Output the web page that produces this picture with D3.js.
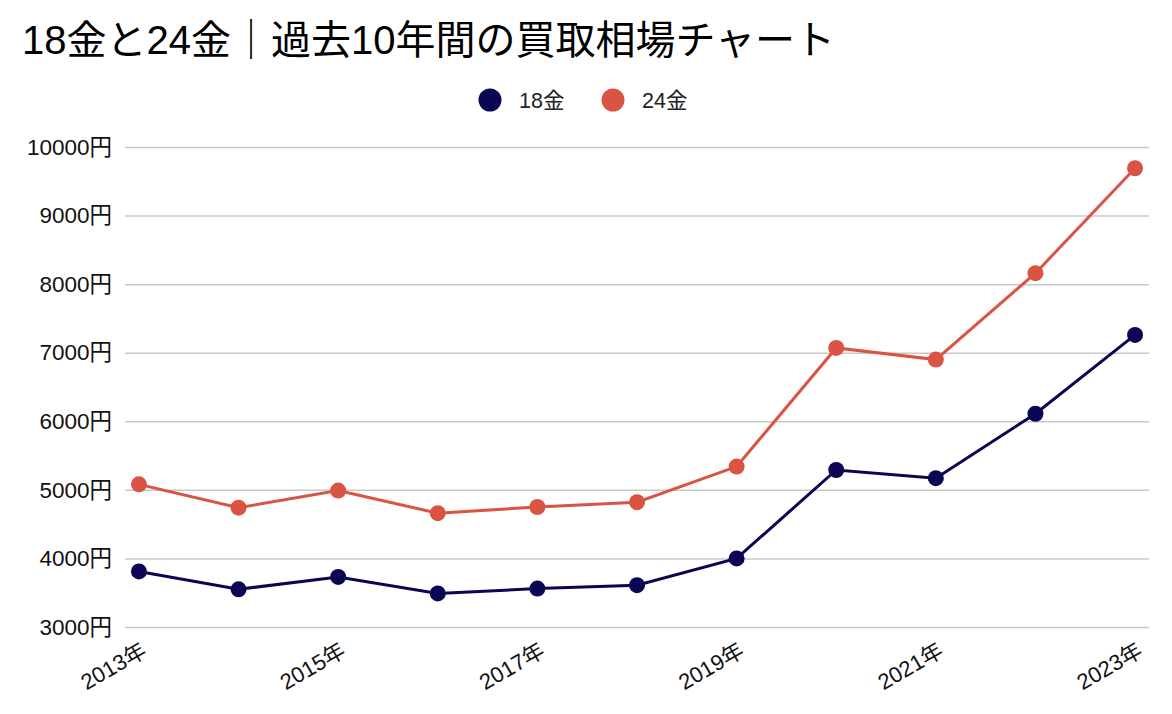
<!DOCTYPE html>
<html>
<head>
<meta charset="utf-8">
<script src="https://cdn.jsdelivr.net/npm/d3@7"></script>
<style>
    body { margin: 0; background: #fff; }
    svg text { font-family: "Liberation Sans", Arial, "Noto Sans CJK JP", sans-serif; }
</style>
</head>
<body>
<svg id="chart"></svg>
<script>
    const years = [2013, 2014, 2015, 2016, 2017, 2018, 2019, 2020, 2021, 2022, 2023];
    const gold18 = [3810, 3550, 3730, 3490, 3560, 3610, 4000, 5290, 5170, 6110, 7260];
    const gold24 = [5080, 4740, 4990, 4660, 4750, 4820, 5340, 7070, 6900, 8160, 9690];
    const yTicks = [3000, 4000, 5000, 6000, 7000, 8000, 9000, 10000];
    const xTickYears = [2013, 2015, 2017, 2019, 2021, 2023];

    const seriesList = [
        {name: '18金', values: gold18, color: '#0b0653'},
        {name: '24金', values: gold24, color: '#da5443'},
    ];

    const WIDTH = 1172;
    const HEIGHT = 714;
    const PLOT_LEFT = 125;
    const PLOT_RIGHT = 1149;
    const PLOT_TOP = 147;
    const PLOT_BOTTOM = 627;
    const DOT_R = 8;

    const svg = d3.select('#chart').attr('width', WIDTH).attr('height', HEIGHT);

    const x = d3.scalePoint()
        .domain(years)
        .range([PLOT_LEFT, PLOT_RIGHT])
        .padding(0.14);

    const y = d3.scaleLinear()
        .domain([3000, 10000])
        .range([PLOT_BOTTOM, PLOT_TOP]);

    // title
    svg.append('text')
        .text('18金と24金｜過去10年間の買取相場チャート')
        .attr('x', 22)
        .attr('y', 54)
        .attr('font-size', 40)
        .attr('fill', '#000');

    // legend
    const legendPos = [490, 613];
    seriesList.forEach((s, i) => {
        svg.append('circle')
            .attr('cx', legendPos[i])
            .attr('cy', 100)
            .attr('r', 11.5)
            .attr('fill', s.color);
        svg.append('text')
            .text(s.name)
            .attr('x', legendPos[i] + 29)
            .attr('y', 100)
            .attr('dy', '0.36em')
            .attr('font-size', 21.5)
            .attr('fill', '#222');
    });

    // y axis with gridlines
    const yAxis = d3.axisLeft(y)
        .tickValues(yTicks)
        .tickSize(-(PLOT_RIGHT - PLOT_LEFT))
        .tickPadding(13)
        .tickFormat(d => d + '円');

    const yG = svg.append('g')
        .attr('transform', `translate(${PLOT_LEFT},0)`)
        .call(yAxis);
    yG.select('.domain').remove();
    yG.selectAll('line').attr('stroke', '#c8c8c8').attr('stroke-width', 1.5);
    yG.selectAll('text')
        .attr('font-size', 22.5)
        .attr('fill', '#111')
        .attr('font-family', '"Liberation Sans", Arial, "Noto Sans CJK JP", sans-serif');

    // x axis labels (rotated)
    svg.append('g')
        .selectAll('text')
        .data(xTickYears)
        .join('text')
        .text(d => d + '年')
        .attr('transform', d => `translate(${x(d) + 9},${PLOT_BOTTOM + 28}) rotate(-30)`)
        .attr('text-anchor', 'end')
        .attr('font-size', 22)
        .attr('fill', '#111');

    // lines and dots
    const line = d3.line()
        .x((d, i) => x(years[i]))
        .y(d => y(d));

    seriesList.forEach(s => {
        svg.append('path')
            .datum(s.values)
            .attr('d', line)
            .attr('fill', 'none')
            .attr('stroke', s.color)
            .attr('stroke-width', 3);

        svg.append('g')
            .selectAll('circle')
            .data(s.values)
            .join('circle')
            .attr('cx', (d, i) => x(years[i]))
            .attr('cy', d => y(d))
            .attr('r', DOT_R)
            .attr('fill', s.color);
    });
</script>
</body>
</html>
